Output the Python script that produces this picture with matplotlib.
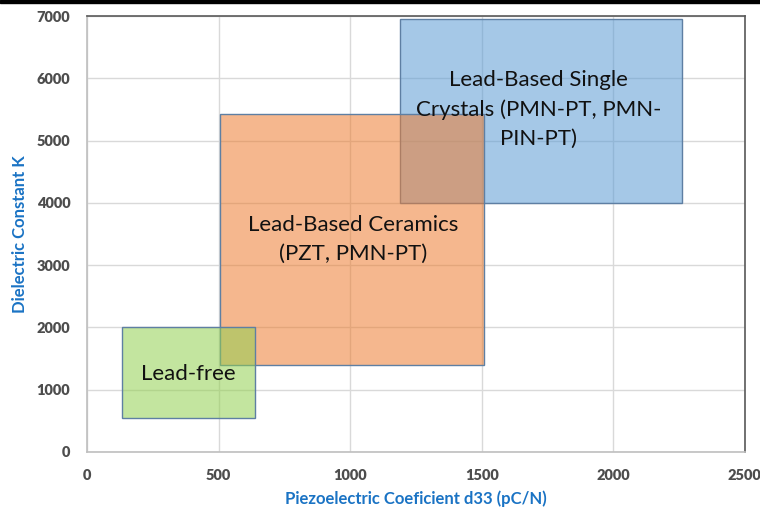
import matplotlib.pyplot as plt

# material regions: d33 range (pC/N) and dielectric constant range
# (drawn in this order: crystals at the back, lead-free in front)
names = ['Lead-Based Single\nCrystals (PMN-PT, PMN-\nPIN-PT)',
         'Lead-Based Ceramics\n(PZT, PMN-PT)', 'Lead-free']
d33_low = [1188, 505, 133]
d33_high = [2260, 1510, 638]
k_low = [4000, 1400, 550]
k_high = [6960, 5430, 2000]
label_x = [1716, 1010, 385]
label_y = [5500, 3420, 1250]

colors = ['#5b9bd5', '#ed7d31', '#92d050']

x_ticks = [0, 500, 1000, 1500, 2000, 2500]
y_ticks = [0, 1000, 2000, 3000, 4000, 5000, 6000, 7000]

plt.rcParams['font.family'] = ['Lato', 'DejaVu Sans']

fig = plt.figure(figsize=(7.6, 5.11), dpi=100)
ax = fig.add_axes([0.1145, 0.1155, 0.8655, 0.853])

for i in range(len(names)):
    ax.bar(d33_low[i], k_high[i] - k_low[i], width=d33_high[i] - d33_low[i],
           bottom=k_low[i], align='edge', color=colors[i], alpha=0.55,
           edgecolor='none', zorder=2)
    ax.bar(d33_low[i], k_high[i] - k_low[i], width=d33_high[i] - d33_low[i],
           bottom=k_low[i], align='edge', fill=False,
           edgecolor='#5e7fa3', linewidth=1.0, zorder=2)

for i in range(len(names)):
    ax.text(label_x[i], label_y[i], names[i], ha='center', va='center',
            fontsize=16, color='#111111', linespacing=1.55, zorder=3)

ax.set_xlim(0, 2500)
ax.set_ylim(0, 7000)
ax.set_xticks(x_ticks, labels=[str(v) for v in x_ticks],
              fontweight='heavy', fontsize=10.5)
ax.set_yticks(y_ticks, labels=[str(v) for v in y_ticks],
              fontweight='heavy', fontsize=10.5)
ax.tick_params(length=0, labelcolor='#4d4d4d', pad=12)
ax.grid(True, color='#d9d9d9', linewidth=1.0, zorder=0)
ax.set_axisbelow(True)

ax.spines['left'].set_color('#bfbfbf')
ax.spines['bottom'].set_color('#bfbfbf')
ax.spines['top'].set_color('#595959')
ax.spines['right'].set_color('#595959')
for s in ax.spines.values():
    s.set_linewidth(1.2)

ax.set_xlabel('Piezoelectric Coeficient d33 (pC/N)', fontsize=12,
              fontweight='bold', color='#1a73c4', labelpad=6)
ax.set_ylabel('Dielectric Constant K', fontsize=12,
              fontweight='bold', color='#1a73c4', labelpad=6)

# black strip along the top edge of the image
fig.add_artist(plt.Rectangle((0, 0.994), 1, 0.006, transform=fig.transFigure,
                             color='black', zorder=5))

fig.savefig('out.png', dpi=100)
